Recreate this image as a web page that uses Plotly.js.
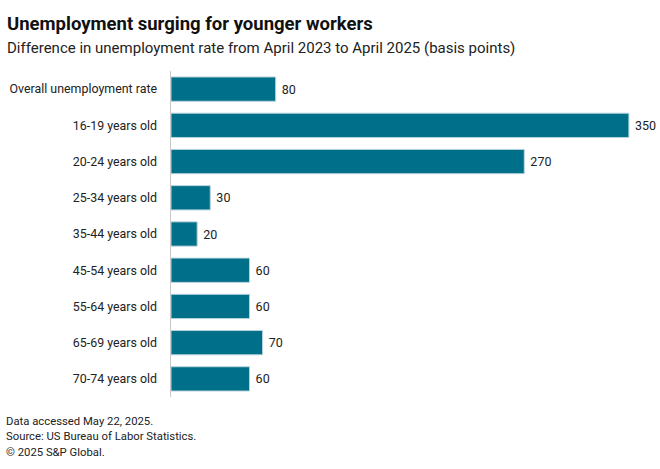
<!DOCTYPE html>
<html>
<head>
<meta charset="utf-8">
<script src="https://cdn.plot.ly/plotly-3.0.1.min.js"></script>
<style>html,body{margin:0;padding:0;background:#fff;}#chart{width:660px;height:469px;}</style>
</head>
<body>
<div id="chart"></div>
<script>
const categories = ["Overall unemployment rate","16-19 years old","20-24 years old","25-34 years old","35-44 years old","45-54 years old","55-64 years old","65-69 years old","70-74 years old"];
const values = [80, 350, 270, 30, 20, 60, 60, 70, 60];
const titleText = "Unemployment surging for younger workers";
const subtitleText = "Difference in unemployment rate from April 2023 to April 2025 (basis points)";
const footerLines = ["Data accessed May 22, 2025.", "Source: US Bureau of Labor Statistics.", "© 2025 S&P Global."];

const F = "Roboto, 'Liberation Sans', sans-serif";
const mt = 71, mb = 72, ml = 171, mr = 18;
const H = 469, W = 660;
const ph = H - mt - mb, pw = W - ml - mr;
const py = p => (H - mb - p) / ph;
const px = p => (p - ml) / pw;

const trace = {
  type: "bar",
  orientation: "h",
  y: categories,
  x: values,
  marker: {color: "#006f89", line: {color: "#b9d3dc", width: 1}},
  text: values.map(v => String(v)),
  texttemplate: "\u00a0%{text}",
  textposition: "outside",
  cliponaxis: false,
  textfont: {family: F, size: 12.5, color: "#222"},
  hoverinfo: "none"
};

const annotations = [
  {text: "<b>" + titleText + "</b>", x: px(5), y: py(24), xanchor: "left", yanchor: "middle", font: {family: F, size: 18.5, color: "#111"}},
  {text: subtitleText, x: px(5), y: py(48), xanchor: "left", yanchor: "middle", font: {family: F, size: 15, color: "#222"}}
];
footerLines.forEach((t, i) => {
  annotations.push({text: t, x: px(4), y: py(421 + i * 15.5), xanchor: "left", yanchor: "middle", font: {family: F, size: 11.3, color: "#222"}});
});
annotations.forEach(a => { a.xref = "paper"; a.yref = "paper"; a.showarrow = false; });

const layout = {
  width: W, height: H,
  margin: {l: ml, r: mr, t: mt, b: mb, pad: 0},
  paper_bgcolor: "#fff", plot_bgcolor: "#fff",
  bargap: 0.33,
  showlegend: false,
  xaxis: {range: [0, 360], visible: false, fixedrange: true},
  yaxis: {autorange: "reversed", showline: true, linecolor: "#c8c8c8", linewidth: 1.5, ticks: "", showgrid: false, zeroline: false,
          ticklabelstandoff: 10, tickfont: {family: F, size: 12.4, color: "#222"}},
  annotations: annotations
};

Plotly.newPlot("chart", [trace], layout, {displayModeBar: false, staticPlot: true});
</script>
</body>
</html>
